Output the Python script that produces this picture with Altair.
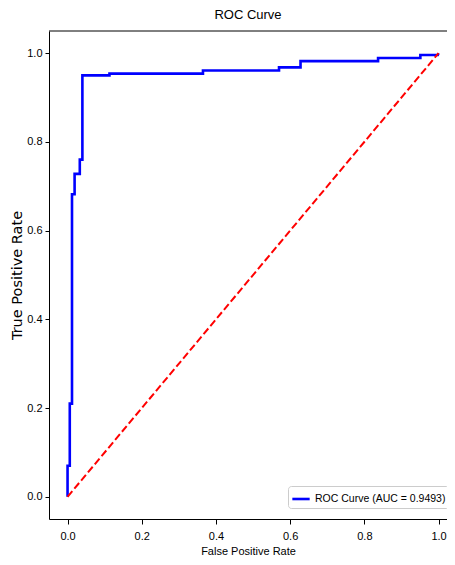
import altair as alt
import pandas as pd

# ROC curve
fpr = [0.0, 0.0, 0.006, 0.006, 0.012, 0.012, 0.019, 0.019, 0.033, 0.033, 0.040, 0.040,
       0.113, 0.113, 0.365, 0.365, 0.570, 0.570, 0.628, 0.628, 0.837, 0.837, 0.951, 0.951,
       0.998, 1.0]
tpr = [0.0, 0.07, 0.07, 0.21, 0.21, 0.682, 0.682, 0.728, 0.728, 0.760, 0.760, 0.950,
       0.950, 0.954, 0.954, 0.961, 0.961, 0.968, 0.968, 0.982, 0.982, 0.989, 0.989, 0.996,
       0.996, 1.0]
diag_x = [0.0, 1.0]
diag_y = [0.0, 1.0]
tick_values = [0.0, 0.2, 0.4, 0.6, 0.8, 1.0]
legend_label = "ROC Curve (AUC = 0.9493)"
title_text = "ROC Curve"
x_title = "False Positive Rate"
y_title = "True Positive Rate"

x_domain = [-0.05, 1.0228]
y_domain = [-0.05, 1.05]

FONT = "Liberation Sans, Arial, DejaVu Sans"

roc_df = pd.DataFrame({"fpr": fpr, "tpr": tpr, "order": list(range(len(fpr))),
                       "series": [legend_label] * len(fpr)})
diag_df = pd.DataFrame({"fpr": diag_x, "tpr": diag_y, "order": [0, 1]})
frame_df = pd.DataFrame({"x": [x_domain[0]], "x2": [x_domain[1]], "y": [y_domain[1]]})

xs = alt.Scale(domain=x_domain, nice=False, zero=False)
ys = alt.Scale(domain=y_domain, nice=False, zero=False)

x_axis = alt.Axis(values=tick_values, format=".1f", title=x_title, grid=False)
y_axis = alt.Axis(values=tick_values, format=".1f", title=y_title, grid=False)

roc = alt.Chart(roc_df).mark_line(strokeWidth=2.6).encode(
    x=alt.X("fpr:Q", scale=xs, axis=x_axis),
    y=alt.Y("tpr:Q", scale=ys, axis=y_axis),
    order="order:Q",
    color=alt.Color("series:N", scale=alt.Scale(domain=[legend_label], range=["#0000ff"]),
                    legend=alt.Legend(title=None)),
)

diag = alt.Chart(diag_df).mark_line(color="#ff0000", strokeWidth=2.0,
                                    strokeDash=[7.4, 3.2]).encode(
    x=alt.X("fpr:Q", scale=xs),
    y=alt.Y("tpr:Q", scale=ys),
    order="order:Q",
)

top_frame = alt.Chart(frame_df).mark_rule(color="black", strokeWidth=1).encode(
    x=alt.X("x:Q", scale=xs),
    x2="x2:Q",
    y=alt.Y("y:Q", scale=ys),
)

chart = alt.layer(roc, diag, top_frame).properties(
    width=398,
    height=488,
    title=alt.Title(title_text, fontSize=13, font=FONT, fontWeight="normal",
                    color="black", anchor="middle", offset=9),
    autosize=alt.AutoSizeParams(type="none"),
    padding={"left": 41, "top": 23, "right": 0, "bottom": 38},
).configure_view(
    stroke=None
).configure_axis(
    domainColor="black", domainWidth=1, tickColor="black", tickWidth=1,
    labelFont=FONT, labelFontSize=11, labelColor="black",
    titleFontWeight="normal", titleColor="black",
).configure_axisX(
    tickSize=5, labelPadding=6,
    titleFont=FONT, titleFontSize=11, titlePadding=4,
).configure_axisY(
    tickSize=4, labelPadding=3,
    titleFont="DejaVu Sans", titleFontSize=14.5, titlePadding=2,
).configure_legend(
    orient="none", legendX=239, legendY=455, symbolType="stroke", symbolStrokeWidth=2.6,
    symbolSize=300, labelFont=FONT, labelFontSize=10.5, labelColor="black", labelLimit=0,
    fillColor="white", strokeColor="#cccccc", cornerRadius=3, padding=3, labelOffset=4,
)

chart.save("out.html", embed_options={"renderer": "svg", "actions": False})
